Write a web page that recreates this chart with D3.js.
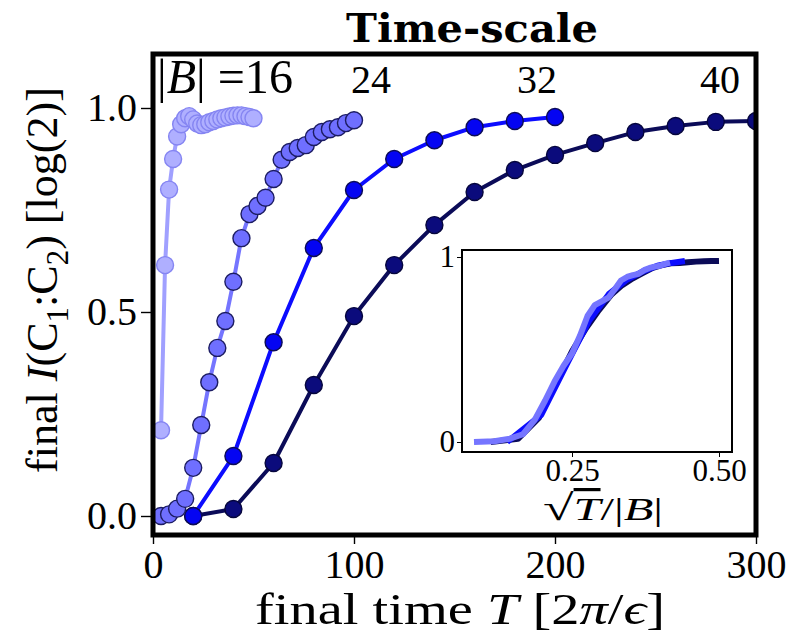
<!DOCTYPE html>
<html><head><meta charset="utf-8">
<script src="https://cdn.jsdelivr.net/npm/d3@7"></script>
<style>body{margin:0;background:#fff}svg{display:block}</style>
</head><body><div id="chart"></div>
<script>
// ---------------- data ----------------
const T16 = [4,6,8,10,12,14,16,18,20,22,24,26,28,30,32,34,36,38,40,42,44,46,48,50];
const I16 = [0.21,0.615,0.80,0.875,0.93,0.96,0.975,0.98,0.972,0.962,0.958,0.96,0.965,0.968,0.972,0.975,0.977,0.979,0.981,0.982,0.982,0.980,0.978,0.975];
const T24 = [4,8,12,16,20,24,28,32,36,40,44,48,52,56,60,64,68,72,76,80,84,88,92,96,100];
const I24 = [0.0,0.004,0.018,0.042,0.118,0.223,0.328,0.412,0.478,0.574,0.681,0.74,0.76,0.78,0.826,0.873,0.892,0.902,0.909,0.929,0.941,0.948,0.953,0.963,0.97];
const T32 = [20,40,60,80,100,120,140,160,180,200];
const I32 = [0.0,0.147,0.426,0.657,0.799,0.875,0.921,0.953,0.968,0.978];
const T40 = [20,40,60,80,100,120,140,160,180,200,220,240,260,280,300,320,340,360,380,400];
const I40 = [0.0,0.017,0.13,0.321,0.49,0.615,0.713,0.794,0.848,0.885,0.914,0.941,0.956,0.966,0.968,0.972,0.975,0.977,0.978,0.979];
const sizes = [16,24,32,40];
const xTicks = [0,100,200,300];
const yTicks = [0,0.5,1.0];
const insetXTicks = [0.25,0.5];
const insetYTicks = [0,1];
const sizeLabels = ["16","24","32","40"];

// ---------------- styles ----------------
const series = [
  {B:16, T:T16, I:I16, line:"#a0a0ff", fill:"#afafff", edge:"#8585f2"},
  {B:24, T:T24, I:I24, line:"#7575ff", fill:"#6f6fff", edge:"#1c1c62"},
  {B:32, T:T32, I:I32, line:"#0c0cff", fill:"#0404f2", edge:"#0c0c55"},
  {B:40, T:T40, I:I40, line:"#0b0b58", fill:"#0b0b7c", edge:"#06063c"}
];
const FONT = "'Liberation Serif', 'Times New Roman', serif";

const W = 796, H = 640;
const svg = d3.select("#chart").append("svg").attr("width", W).attr("height", H)
  .style("font-family", FONT);
svg.append("rect").attr("width", W).attr("height", H).attr("fill", "#fff");

// main plot frame
const L = 153, R = 756, Tp = 54, Bt = 535;
const x = d3.scaleLinear().domain([0,300]).range([L,R]);
const y = d3.scaleLinear().domain([0,1]).range([516,108]);

const defs = svg.append("defs");
defs.append("clipPath").attr("id","clipMain").append("rect")
  .attr("x",L).attr("y",Tp).attr("width",R-L).attr("height",Bt-Tp);

const gMain = svg.append("g").attr("clip-path","url(#clipMain)");
const drawOrder = [3,2,1,0];
const lineGen = d3.line().x(d=>x(d[0])).y(d=>y(d[1]));
drawOrder.forEach(i=>{
  const s = series[i];
  const pts = s.T.map((t,k)=>[t, s.I[k]]);
  gMain.append("path").datum(pts).attr("d", lineGen)
    .attr("fill","none").attr("stroke", s.line).attr("stroke-width",4)
    .attr("stroke-linejoin","round");
  gMain.selectAll(null).data(pts).enter().append("circle")
    .attr("cx", d=>x(d[0])).attr("cy", d=>y(d[1])).attr("r",8.5)
    .attr("fill", s.fill).attr("stroke", s.edge).attr("stroke-width",1.4);
});

// axes
const yAxis = d3.axisLeft(y).tickValues(yTicks).tickFormat(d3.format(".1f")).tickSize(10).tickPadding(4);
const gy = svg.append("g").attr("transform",`translate(${L-2},0)`).call(yAxis);
const xAxis = d3.axisBottom(x).tickValues(xTicks).tickFormat(d3.format("d")).tickSize(7).tickPadding(6);
const gx = svg.append("g").attr("transform",`translate(0,${Bt+2})`).call(xAxis);
[gx,gy].forEach(g=>{
  g.select(".domain").remove();
  g.selectAll("line").attr("stroke","#000").attr("stroke-width",1.4);
  g.selectAll("text").attr("font-size",40).attr("fill","#000").style("font-family",FONT);
});

// frame
svg.append("rect").attr("x",L).attr("y",Tp).attr("width",R-L).attr("height",Bt-Tp)
  .attr("fill","none").attr("stroke","#000").attr("stroke-width",5);

// fit helper
function fit(sel, target){
  const w = sel.node().getComputedTextLength();
  const fs = parseFloat(sel.attr("font-size"));
  sel.attr("font-size", fs*target/w);
}

// title
svg.append("text").attr("x",472).attr("y",42).attr("text-anchor","middle")
  .style("font-family","'DejaVu Serif', serif")
  .attr("font-size",40).attr("font-weight","bold")
  .attr("textLength",252).attr("lengthAdjust","spacingAndGlyphs")
  .text("Time-scale");

// size labels
const lab16 = svg.append("text").attr("x",157).attr("y",93).attr("font-size",38);
lab16.append("tspan").text("|");
lab16.append("tspan").attr("font-style","italic").text("B");
lab16.append("tspan").text("| =" + sizeLabels[0]);
fit(lab16, 136);
const labPos = [null, 371, 537, 720];
[1,2,3].forEach(i=>{
  svg.append("text").attr("x",labPos[i]).attr("y",93).attr("text-anchor","middle")
    .attr("font-size",40).text(sizeLabels[i]);
});

// y label
const yl = svg.append("text").attr("transform","translate(57,280) rotate(-90)")
  .attr("text-anchor","middle").attr("font-size",36);
yl.append("tspan").text("final ");
yl.append("tspan").attr("font-style","italic").text("I");
yl.append("tspan").text("(C");
yl.append("tspan").attr("font-size","0.7em").attr("dy","0.35em").text("1");
yl.append("tspan").attr("dy","-0.245em").text(":C");
yl.append("tspan").attr("font-size","0.7em").attr("dy","0.35em").text("2");
yl.append("tspan").attr("dy","-0.245em").text(") [log(2)]");
fit(yl, 386);

// x label
const xl = svg.append("text").attr("x",460).attr("y",624).attr("text-anchor","middle")
  .attr("font-size",44).attr("textLength",410).attr("lengthAdjust","spacingAndGlyphs");
xl.append("tspan").text("final time ");
xl.append("tspan").attr("font-style","italic").text("T");
xl.append("tspan").text(" [2");
xl.append("tspan").attr("font-style","italic").text("π");
xl.append("tspan").text("/");
xl.append("tspan").attr("font-style","italic").text("ϵ");
xl.append("tspan").text("]");

// ---------------- inset ----------------
const iL = 462, iR = 732, iT = 250, iB = 452;
const xi = d3.scaleLinear().domain([0.25,0.5]).range([572,719]);
const yi = d3.scaleLinear().domain([0,1]).range([442,257]);
svg.append("rect").attr("x",iL).attr("y",iT).attr("width",iR-iL).attr("height",iB-iT).attr("fill","#fff");
defs.append("clipPath").attr("id","clipInset").append("rect")
  .attr("x",iL).attr("y",iT).attr("width",iR-iL).attr("height",iB-iT);
const gIn = svg.append("g").attr("clip-path","url(#clipInset)");
const insetLine = d3.line().x(d=>xi(d[0])).y(d=>yi(d[1]));
[3,2,1].forEach(i=>{
  const s = series[i];
  const pts = s.T.map((t,k)=>[Math.sqrt(t)/s.B, s.I[k]]);
  gIn.append("path").datum(pts).attr("d", insetLine).attr("fill","none")
    .attr("stroke", s.line).attr("stroke-width",6).attr("stroke-linejoin","round");
});
svg.append("rect").attr("x",iL).attr("y",iT).attr("width",iR-iL).attr("height",iB-iT)
  .attr("fill","none").attr("stroke","#000").attr("stroke-width",2);
const gix = svg.append("g").attr("transform",`translate(0,${iB+1})`)
  .call(d3.axisBottom(xi).tickValues(insetXTicks).tickFormat(d3.format(".2f")).tickSize(4).tickPadding(2));
const giy = svg.append("g").attr("transform",`translate(${iL-1},0)`)
  .call(d3.axisLeft(yi).tickValues(insetYTicks).tickFormat(d3.format("d")).tickSize(4).tickPadding(2));
[gix,giy].forEach(g=>{
  g.select(".domain").remove();
  g.selectAll("line").attr("stroke","#000").attr("stroke-width",1);
  g.selectAll("text").attr("font-size",31).attr("fill","#000").style("font-family",FONT);
});
const il = svg.append("text").attr("x",603).attr("y",520).attr("text-anchor","middle")
  .attr("font-size",32).attr("textLength",120).attr("lengthAdjust","spacingAndGlyphs");
il.append("tspan").attr("font-size","1.15em").text("√");
il.append("tspan").attr("font-style","italic").attr("text-decoration","overline").text("T");
il.append("tspan").text("/|");
il.append("tspan").attr("font-style","italic").text("B");
il.append("tspan").text("|");
</script>
</body></html>
